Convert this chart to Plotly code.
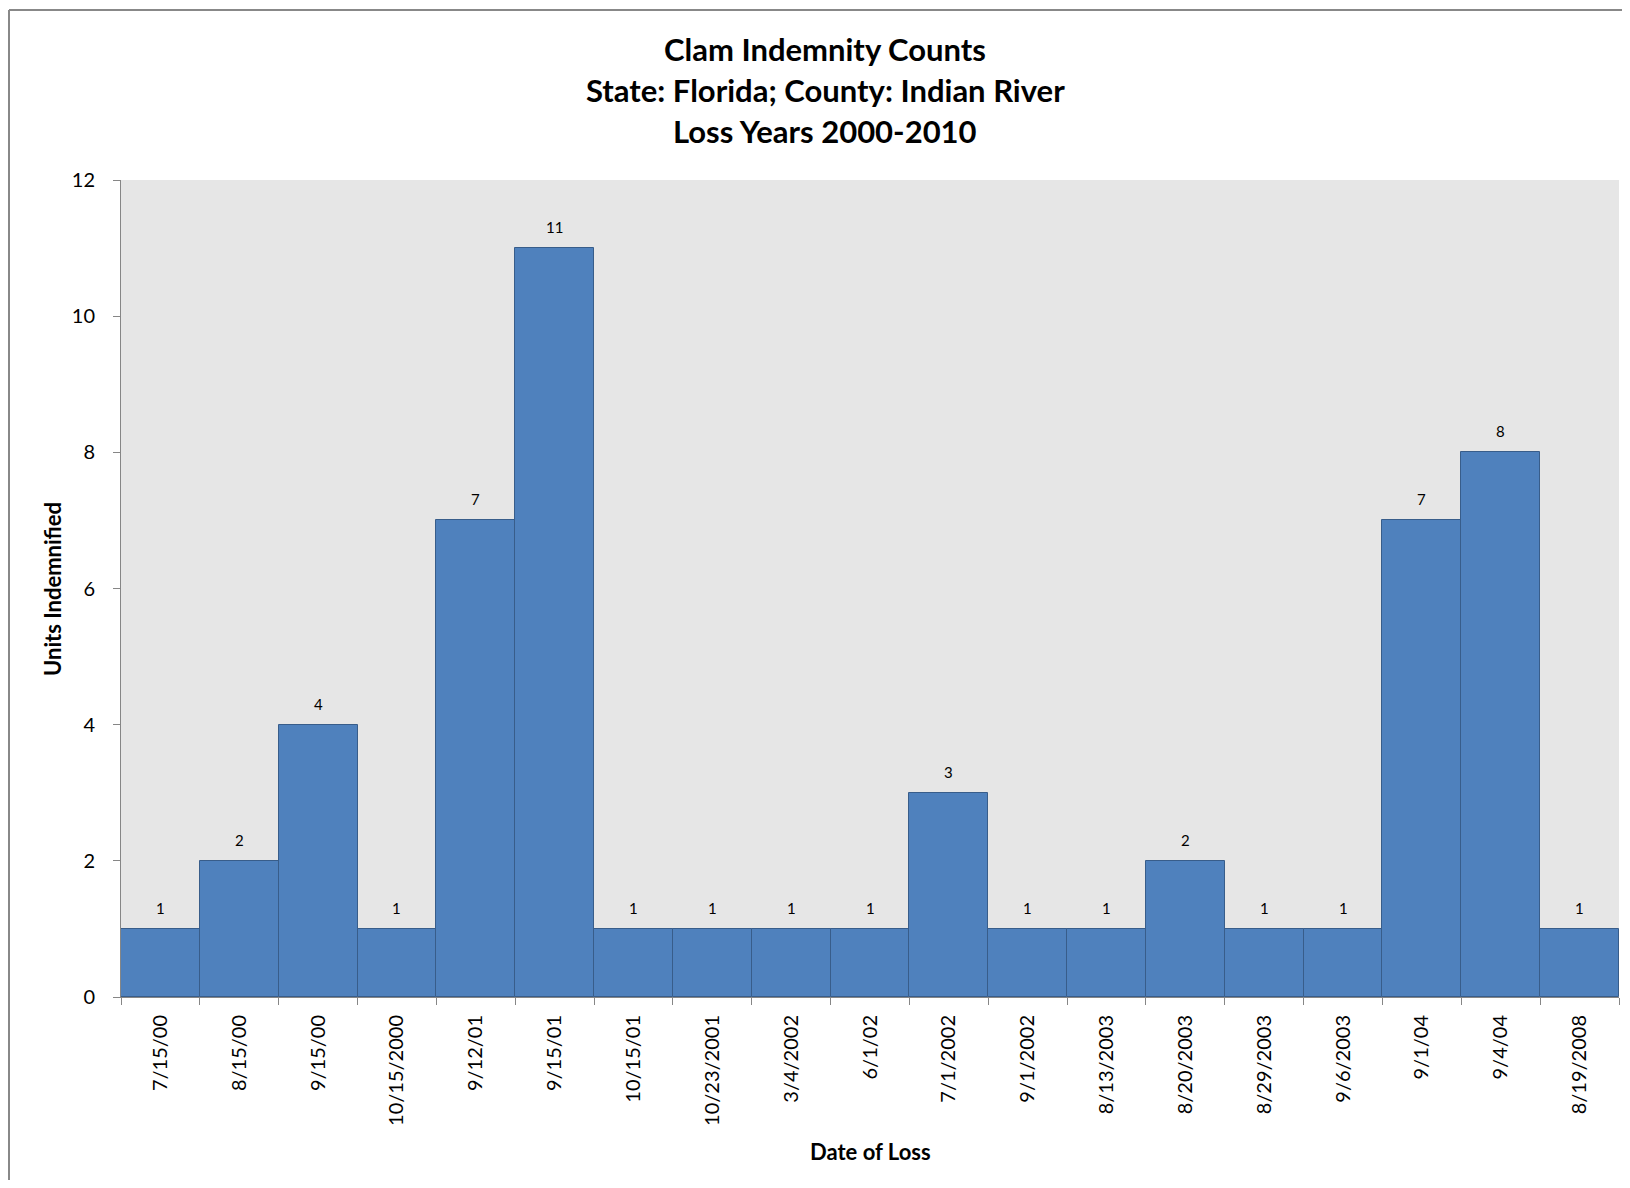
import plotly.graph_objects as go

dates = ["7/15/00", "8/15/00", "9/15/00", "10/15/2000", "9/12/01", "9/15/01",
         "10/15/01", "10/23/2001", "3/4/2002", "6/1/02", "7/1/2002", "9/1/2002",
         "8/13/2003", "8/20/2003", "8/29/2003", "9/6/2003", "9/1/04", "9/4/04",
         "8/19/2008"]
units = [1, 2, 4, 1, 7, 11, 1, 1, 1, 1, 3, 1, 1, 2, 1, 1, 7, 8, 1]
y_ticks = [0, 2, 4, 6, 8, 10, 12]
title_lines = ["Clam Indemnity Counts", "State: Florida; County: Indian River",
               "Loss Years 2000-2010"]

# page body has an 8px margin; work in screen coordinates and subtract it
OFF = 8
W, H = 1630 - 2 * OFF, 1188 - 2 * OFF
plot_left, plot_right, plot_top, plot_bottom = 121, 1619, 180, 997
L = plot_left - OFF
R = W - (plot_right - OFF)
T = plot_top - OFF
B = H - (plot_bottom - OFF)
pw, ph = W - L - R, H - T - B

def py(pix):
    return (plot_bottom - pix) / ph

def px(pix):
    return (pix - plot_left) / pw

FONT = "Lato"

fig = go.Figure(go.Bar(
    x=dates, y=units,
    marker=dict(color="#4F81BD", line=dict(color="#385D8A", width=1)),
    hoverinfo="x+y",
))

annotations = []
for d, v in zip(dates, units):
    annotations.append(dict(x=d, y=v, xref="x", yref="y", text=str(v),
                            showarrow=False, yshift=21,
                            font=dict(family=FONT, size=15, color="#000000")))

for line, ypix in zip(title_lines, [49, 90, 131]):
    annotations.append(dict(x=px(825), y=py(ypix), xref="paper", yref="paper",
                            text="<b>" + line + "</b>", showarrow=False,
                            xanchor="center", yanchor="middle",
                            font=dict(family=FONT, size=31, color="#000000")))

annotations.append(dict(x=px(870), y=py(1151), xref="paper", yref="paper",
                        text="<b>Date of Loss</b>", showarrow=False,
                        xanchor="center", yanchor="middle",
                        font=dict(family=FONT, size=22, color="#000000")))
annotations.append(dict(x=px(52), y=py(589), xref="paper", yref="paper",
                        text="<b>Units Indemnified</b>", showarrow=False,
                        textangle=-90, xanchor="center", yanchor="middle",
                        font=dict(family=FONT, size=22, color="#000000")))

fig.update_layout(
    width=W, height=H,
    margin=dict(l=L, r=R, t=T, b=B, pad=0),
    paper_bgcolor="white",
    plot_bgcolor="#E6E6E6",
    bargap=0,
    showlegend=False,
    annotations=annotations,
    shapes=[
        dict(type="line", xref="paper", yref="paper", x0=px(9), x1=px(1700),
             y0=py(10), y1=py(10), line=dict(color="#888888", width=2)),
        dict(type="line", xref="paper", yref="paper", x0=px(9), x1=px(9),
             y0=py(10), y1=py(1250), line=dict(color="#888888", width=2)),
    ],
    xaxis=dict(
        type="category",
        tickangle=-90,
        ticks="outside", ticklen=7, tickcolor="#868686", tickwidth=1,
        tickson="boundaries",
        showline=True, linecolor="#868686", linewidth=1,
        showgrid=False, zeroline=False,
        ticklabelstandoff=9,
        tickfont=dict(family=FONT, size=20, color="#000000"),
        fixedrange=True,
    ),
    yaxis=dict(
        range=[0, 12], tickvals=y_ticks,
        ticks="outside", ticklen=7, tickcolor="#868686", tickwidth=1,
        showline=True, linecolor="#868686", linewidth=1,
        showgrid=False, zeroline=False,
        ticklabelstandoff=14,
        tickfont=dict(family=FONT, size=20, color="#000000"),
        fixedrange=True,
    ),
)

fig.write_html("out.html", config={"displayModeBar": False})
